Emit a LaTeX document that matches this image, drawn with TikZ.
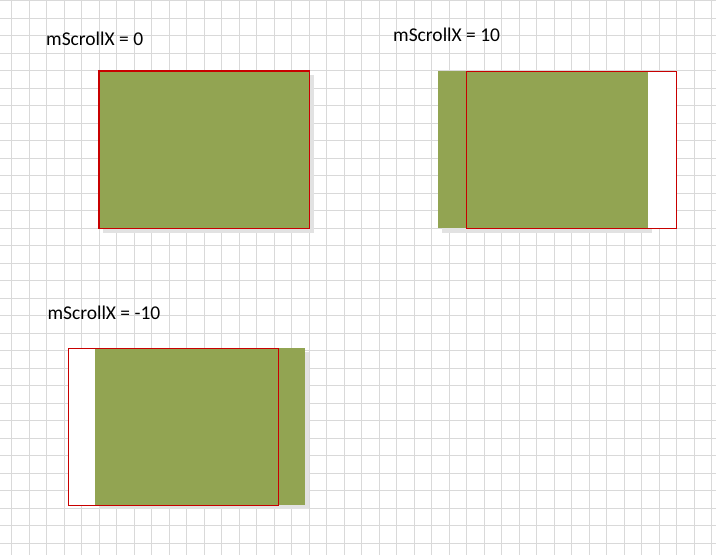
\documentclass[tikz,border=0pt]{standalone}
\usepackage{fontspec}
\setmainfont{Carlito}
\definecolor{gridc}{RGB}{217,217,217}
\definecolor{olive}{RGB}{146,164,82}
\definecolor{shadowc}{RGB}{226,226,226}
\definecolor{redc}{RGB}{200,0,0}
\begin{document}
\begin{tikzpicture}[x=1pt,y=-1pt,
  gridline/.style={draw=gridc,line width=1pt},
  label/.style={anchor=base west,inner sep=0pt,font=\fontsize{19.5}{22}\selectfont},
  shadowbox/.style={fill=shadowc},
  greenbox/.style={fill=olive},
  viewbox/.style={draw=redc,line width=1.2pt}]
\useasboundingbox[fill=white] (0,0) rectangle (716,555);
\foreach \i in {0,...,40} {
  \draw[gridline] ({11.7+17.5*\i},0) -- ({11.7+17.5*\i},555);
}
\foreach \i in {0,...,31} {
  \draw[gridline] (0,{0.8+17.5*\i}) -- (716,{0.8+17.5*\i});
}
% panel 1
\node[label] (l1) at (46,45) {mScrollX = 0};
\fill[shadowbox] (103,75) rectangle (313.5,232.5);
\fill[greenbox] (99,71) rectangle (309.5,228.3);
\draw[viewbox] (99,71) rectangle (309.5,228.3);
% panel 2
\node[label] (l2) at (393,41.7) {mScrollX = 10};
\fill[shadowbox] (442,75) rectangle (652.3,232.5);
\fill[white] (466.3,71.3) rectangle (676.3,228.3);
\fill[greenbox] (438,71) rectangle (648,228.3);
\draw[viewbox] (466.3,71.3) rectangle (676.3,228.3);
% panel 3
\node[label] (l3) at (47.3,319) {mScrollX = -10};
\fill[shadowbox] (99,352) rectangle (309,509);
\fill[white] (68.3,348.3) rectangle (278.3,505.3);
\fill[greenbox] (95,348) rectangle (305,505);
\draw[viewbox] (68.3,348.3) rectangle (278.3,505.3);
\end{tikzpicture}
\end{document}
